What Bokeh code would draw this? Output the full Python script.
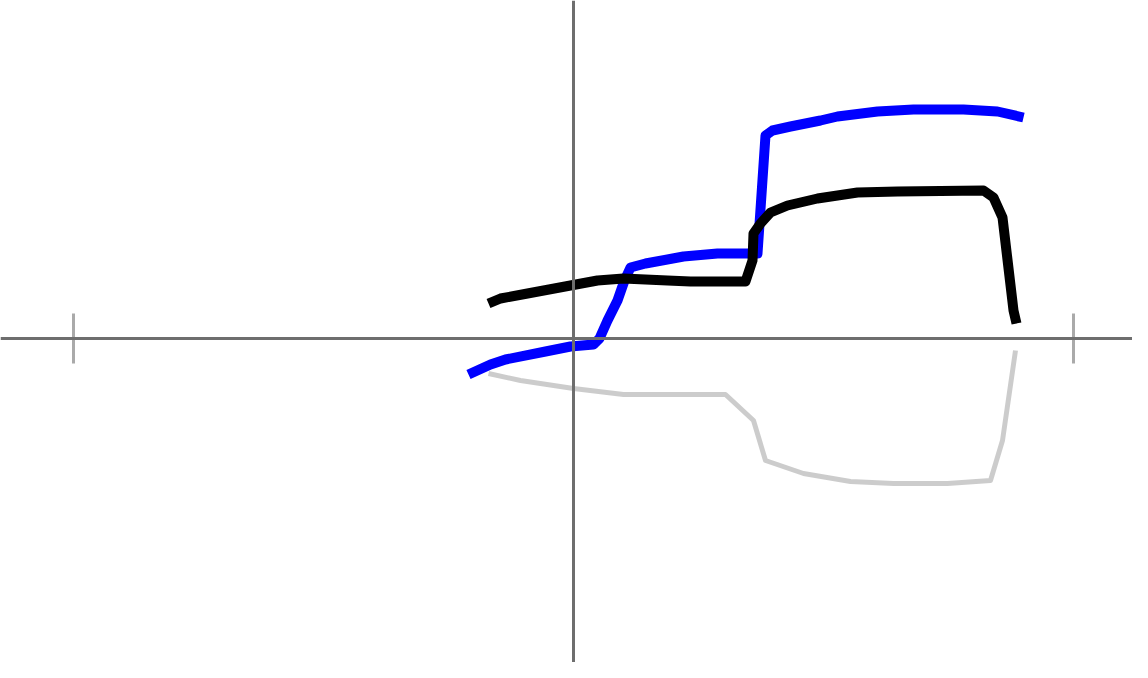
import numpy as np

from bokeh.embed import file_html
from bokeh.resources import INLINE
from bokeh.plotting import figure
from bokeh.models import Span


# values (ticks on the x axis sit at -10 and 10)
blue_x = [-2.10, -1.66, -1.36, -0.56, -0.06, 0.40, 0.52, 0.68, 0.88, 1.02, 1.14,
          1.44, 2.20, 2.88, 3.68, 3.84, 3.98, 4.34, 4.94, 5.28, 6.08, 6.80,
          7.80, 8.48, 9.00]
blue_y = [-0.72, -0.52, -0.42, -0.26, -0.16, -0.12, 0.00, 0.36, 0.76, 1.16, 1.42,
          1.50, 1.64, 1.70, 1.70, 4.06, 4.16, 4.24, 4.36, 4.44, 4.54, 4.58,
          4.58, 4.54, 4.42]

black_x = [-1.70, -1.46, -0.92, -0.06, 0.48, 1.00, 1.88, 2.34, 3.44, 3.58, 3.60,
           3.74, 3.94, 4.28, 4.88, 5.68, 6.48, 8.20, 8.40, 8.58, 8.80, 8.86]
black_y = [0.70, 0.80, 0.90, 1.06, 1.16, 1.20, 1.16, 1.14, 1.14, 1.56, 2.10,
           2.30, 2.52, 2.66, 2.80, 2.92, 2.94, 2.96, 2.82, 2.42, 0.56, 0.30]

shadow_x = [-1.70, -1.06, 0.00, 1.00, 3.04, 3.60, 3.84, 4.60, 5.54, 6.40, 7.48,
            8.34, 8.58, 8.84]
shadow_y = [-0.70, -0.84, -1.00, -1.12, -1.12, -1.64, -2.44, -2.70, -2.86, -2.90,
            -2.90, -2.84, -2.04, -0.24]

tick_x = [-10, 10]

W, H = 1132, 662
# 50 px per unit, origin 573 px from the left and 338 px from the top
p = figure(width=W, height=H, output_backend="svg", toolbar_location=None,
           x_range=(-11.46, 11.18), y_range=(-6.48, 6.76),
           min_border=0)
p.axis.visible = False
p.grid.visible = False
p.outline_line_color = None
p.background_fill_color = "white"

# axes through the origin
p.add_layout(Span(location=0, dimension="width", line_color="#6e6e6e", line_width=3))
p.add_layout(Span(location=0, dimension="height", line_color="#6e6e6e", line_width=3))
p.segment(x0=tick_x, y0=[-0.5, -0.5], x1=tick_x, y1=[0.5, 0.5],
          line_color="#aaaaaa", line_width=3)

p.line(shadow_x, shadow_y, line_color="black", line_alpha=0.2, line_width=5,
       line_join="round")
p.line(blue_x, blue_y, line_color="#0000ff", line_width=10, line_join="round")
p.line(black_x, black_y, line_color="black", line_width=10, line_join="round")

open("out.html", "w").write(file_html(p, INLINE))
